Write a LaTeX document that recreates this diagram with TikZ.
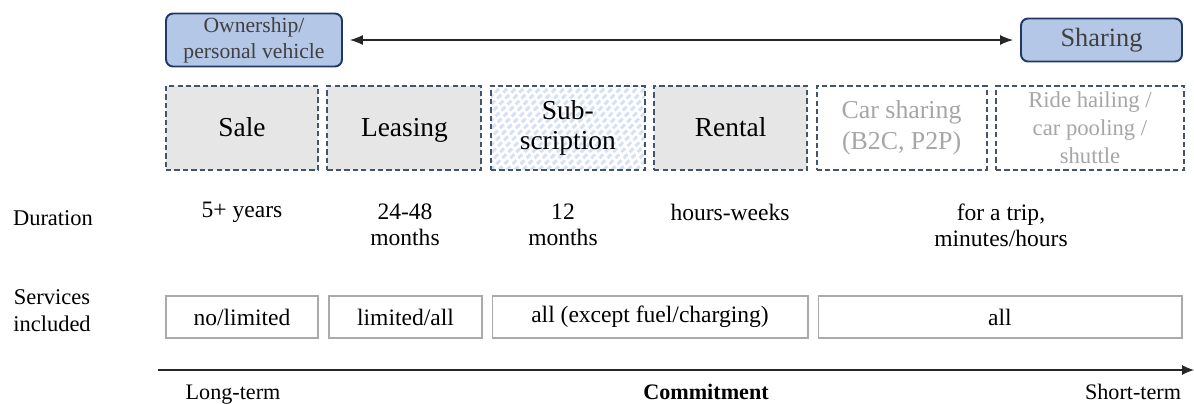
\documentclass[tikz,border=0pt]{standalone}
\usepackage{fontspec}
\setmainfont{Liberation Serif}
\usetikzlibrary{arrows.meta,positioning}
\definecolor{modeblue}{RGB}{180,199,231}
\definecolor{modenavy}{RGB}{32,56,100}
\definecolor{slateline}{RGB}{68,84,106}
\definecolor{offergray}{RGB}{231,230,230}
\definecolor{fadedtext}{RGB}{166,166,166}
\definecolor{stripeblue}{RGB}{214,225,243}
\definecolor{svcline}{RGB}{170,170,170}

\begin{document}
\begin{tikzpicture}[
  x=0.02cm, y=-0.02cm,
  node distance=1.5mm,
  mode/.style={
    draw=modenavy,
    line width=1.1pt,
    rounded corners=4pt,
    fill=modeblue,
    text=black!75,
    align=center,
    inner sep=0pt
  },
  offer/.style={
    draw=slateline,
    line width=1.1pt,
    dash pattern=on 3pt off 1.8pt,
    minimum height=1.68cm,
    inner sep=0pt,
    align=center,
    font=\fontsize{15.6}{17.5}\selectfont
  },
  oneline/.style={text height=13pt, text depth=3pt},
  hatched/.style={
    path picture={
      \foreach \k in {0,...,32}
        \draw[stripeblue, line width=1.7pt]
          ([xshift=\k*4.6pt-60pt]path picture bounding box.south west) -- ++(60pt,60pt);
    }
  },
  svc/.style={
    draw=svcline,
    line width=0.6pt,
    minimum height=0.84cm,
    inner sep=0pt,
    font=\fontsize{13.4}{15}\selectfont
  },
  txt/.style={align=center, inner sep=0pt, font=\fontsize{13.4}{14.8}\selectfont},
  arrow/.style={-{Latex[length=2.6mm,width=2mm]},line width=0.6pt,draw=black!85}
]
\useasboundingbox (0,0) rectangle (1194,403);

% ownership vs. sharing
\node[mode, minimum width=3.52cm, minimum height=1.06cm,
  font=\fontsize{12.3}{14.8}\selectfont] (own) at (254,40) {Ownership/\\personal vehicle};
\node[mode, minimum width=3.22cm, minimum height=0.86cm,
  font=\fontsize{15}{17}\selectfont] (share) at (1101.5,40) {Sharing};
\draw[arrow, {Latex[length=2.6mm,width=2mm]}-{Latex[length=2.6mm,width=2mm]},
  shorten <=4pt, shorten >=4pt] (own.east) -- (share.west);

% offers
\node[offer, oneline, fill=offergray, minimum width=3.04cm] (sale) at (242,128) {Sale};
\node[offer, oneline, fill=offergray, minimum width=3.08cm, right=of sale] (lease) {Leasing};
\node[offer, fill=white, hatched, minimum width=3.08cm, right=of lease] (subs) {Sub-\\scription};
\node[offer, oneline, fill=offergray, minimum width=3.06cm, right=of subs] (rent) {Rental};
\node[offer, fill=white, text=fadedtext, minimum width=3.4cm,
  font=\fontsize{14.7}{17.5}\selectfont, right=of rent] (carsh) {Car sharing\\(B2C, P2P)};
\node[offer, fill=white, text=fadedtext, minimum width=3.76cm,
  font=\fontsize{12.9}{16}\selectfont, right=of carsh] (ride) {Ride hailing /\\car pooling /\\shuttle};

% duration
\node[txt, font=\fontsize{12.8}{15.4}\selectfont] (durlbl) at (53,218) {Duration};
\node[txt] (dsale) at (242,212) {5+ years};
\node[txt] (dlease) at (405,225) {24-48\\months};
\node[txt] (dsubs) at (563,225) {12\\months};
\node[txt] (drent) at (730,212) {hours-weeks};
\node[txt] (dshare) at (1001,225) {for a trip,\\minutes/hours};

% services
\node[txt, font=\fontsize{12.8}{15.4}\selectfont] (svclbl) at (52,311) {Services\\included};
\node[svc, minimum width=3.04cm] (ssale) at (242,317) {no/limited};
\node[svc, minimum width=3.06cm] (slease) at (405.5,317) {limited/all};
\node[svc, minimum width=6.32cm] (srent) at (650,317) {all (except fuel/charging)};
\node[svc, minimum width=7.28cm] (sshare) at (1000,317) {all};

% commitment axis
\coordinate (ax0) at (158,370);
\coordinate (ax1) at (1194,370);
\draw[-{Latex[length=2.4mm,width=2mm]}, line width=0.6pt, black!85] (ax0) -- (ax1);
\node[txt, font=\fontsize{12.6}{15}\selectfont, anchor=base] (longt) at (233,399) {Long-term};
\node[txt, font=\fontsize{12.6}{15}\selectfont\bfseries, anchor=base] (commit) at (706,399) {Commitment};
\node[txt, font=\fontsize{12.6}{15}\selectfont, anchor=base] (shortt) at (1133,399) {Short-term};
\end{tikzpicture}
\end{document}
